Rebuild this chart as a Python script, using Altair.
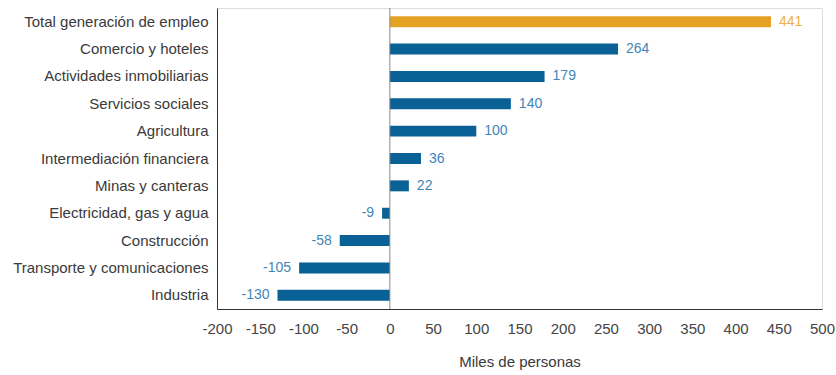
import altair as alt
import pandas as pd

categorias = [
    "Total generación de empleo",
    "Comercio y hoteles",
    "Actividades inmobiliarias",
    "Servicios sociales",
    "Agricultura",
    "Intermediación financiera",
    "Minas y canteras",
    "Electricidad, gas y agua",
    "Construcción",
    "Transporte y comunicaciones",
    "Industria",
]
valores = [441, 264, 179, 140, 100, 36, 22, -9, -58, -105, -130]
tipos = ["total"] + ["sector"] * 10
ticks_x = list(range(-200, 501, 50))

df = pd.DataFrame({"cat": categorias, "val": valores, "tipo": tipos})

FONT = "Liberation Sans"

y_enc = alt.Y("cat:N", sort=categorias, axis=alt.Axis(
    title=None, ticks=False, labelFontSize=15, labelFont=FONT, labelColor="#3a3a3a",
    labelPadding=9, labelLimit=300, domainColor="#333333", domainWidth=1),
    scale=alt.Scale(paddingInner=0.6, paddingOuter=0.3))

x_scale = alt.Scale(domain=[-200, 500], nice=False)
x_enc = alt.X("val:Q", scale=x_scale, axis=alt.Axis(
    title="Miles de personas", values=ticks_x, grid=False, ticks=False,
    labelExpr="toString(datum.value)", labelOverlap=False, labelFlush=False,
    labelFontSize=15, labelFont=FONT, labelColor="#444444", labelPadding=12,
    domainColor="#333333", titleFont=FONT, titleFontSize=15, titleFontWeight="normal",
    titleColor="#3a3a3a", titlePadding=18))

color_bar = alt.Color("tipo:N", scale=alt.Scale(domain=["total", "sector"], range=["#e5a124", "#0a6196"]), legend=None)
color_txt = alt.Color("tipo:N", scale=alt.Scale(domain=["total", "sector"], range=["#eeb045", "#3f86b8"]), legend=None)

bars = alt.Chart(df).mark_bar().encode(x=x_enc, y=y_enc, color=color_bar)

zero = alt.Chart(pd.DataFrame({"z": [0]})).mark_rule(color="#888888", strokeWidth=1).encode(x=alt.X("z:Q", scale=x_scale))

base_txt = alt.Chart(df).transform_calculate(lbl="toString(datum.val)")
pos = base_txt.transform_filter("datum.val >= 0").mark_text(
    align="left", dx=8, fontSize=14, font=FONT).encode(
    x="val:Q", y=alt.Y("cat:N", sort=categorias), text="lbl:N", color=color_txt)
neg = base_txt.transform_filter("datum.val < 0").mark_text(
    align="right", dx=-8, fontSize=14, font=FONT).encode(
    x="val:Q", y=alt.Y("cat:N", sort=categorias), text="lbl:N", color=color_txt)

chart = alt.layer(bars, zero, pos, neg).resolve_scale(color="independent").properties(
    width=605, height=301,
    padding={"left": 217, "top": 8, "right": 14, "bottom": 66},
    autosize=alt.AutoSizeParams(type="none"),
).configure_view(stroke=None).configure(background="white")

chart.save("out.html", embed_options={"renderer": "svg", "actions": False})
